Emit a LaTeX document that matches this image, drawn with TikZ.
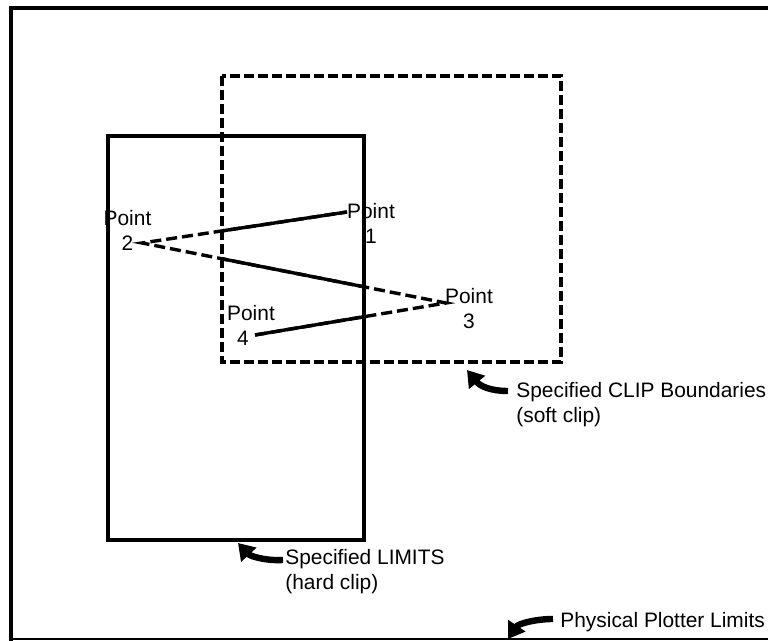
\documentclass[tikz,border=0pt]{standalone}
\usepackage{fontspec}
\setmainfont{Liberation Sans}
\usetikzlibrary{arrows.meta}
\begin{document}
\begin{tikzpicture}[x=0.5pt,y=-0.5pt,
  frame/.style={line width=1.6pt},
  seg/.style={line width=1.7pt},
  dashseg/.style={line width=1.7pt, dash pattern=on 5.5pt off 2.5pt},
  dashrect/.style={line width=1.7pt, dash pattern=on 5pt off 2pt},
  lbl/.style={inner sep=0pt, align=center, font=\fontsize{10.45}{12.5}\selectfont},
  note/.style={inner sep=0pt, align=left, anchor=north west, font=\fontsize{10.45}{12.5}\selectfont},
  curvarrow/.style={line width=3.2pt, -{Triangle[length=8pt,width=10pt]}}]
\useasboundingbox (0,0) rectangle (768,641);
% physical plotter limits
\draw[frame] (11,641) -- (11,8) -- (768,8);
\draw[line width=1pt] (11,639.5) -- (768,639.5);
% soft clip boundaries
\draw[dashrect] (222,76) rectangle (561,362);
% hard clip limits
\draw[seg] (108,136) rectangle (364,540);
% points
\coordinate (p1) at (347,212);
\coordinate (p2) at (142,243);
\coordinate (p3) at (446,303);
\coordinate (p4) at (255,335);
\draw[dashseg] (p4) -- (p3) -- (p2) -- (p1);
\begin{scope}
  \clip (222,136) rectangle (364,362);
  \draw[seg] (p4) -- (p3) -- (p2) -- (p1);
\end{scope}
\node[lbl] (l1) at (371,223) {Point\\1};
\node[lbl] (l2) at (127.5,230) {Point\\2};
\node[lbl] (l3) at (469,309) {Point\\3};
\node[lbl] (l4) at (251,325) {Point\\4\hspace*{8pt}};
% notes
\node[note] (nclip) at (516,382) {Specified CLIP Boundaries\\(soft clip)};
\node[note] (nlim) at (285,549) {Specified LIMITS\\(hard clip)};
\node[note] (nphys) at (560,612) {Physical Plotter Limits};
\coordinate (tclip) at (508,391);
\coordinate (hclip) at (467,370);
\coordinate (tlim) at (283,560);
\coordinate (hlim) at (238,543);
\coordinate (tphys) at (553,619);
\coordinate (hphys) at (508,639);
\draw[curvarrow] (tclip) .. controls (490,391) and (480,386) .. (hclip);
\draw[curvarrow] (tlim) .. controls (265,561) and (250,556) .. (hlim);
\draw[curvarrow] (tphys) .. controls (535,619) and (518,624) .. (hphys);
\end{tikzpicture}
\end{document}
